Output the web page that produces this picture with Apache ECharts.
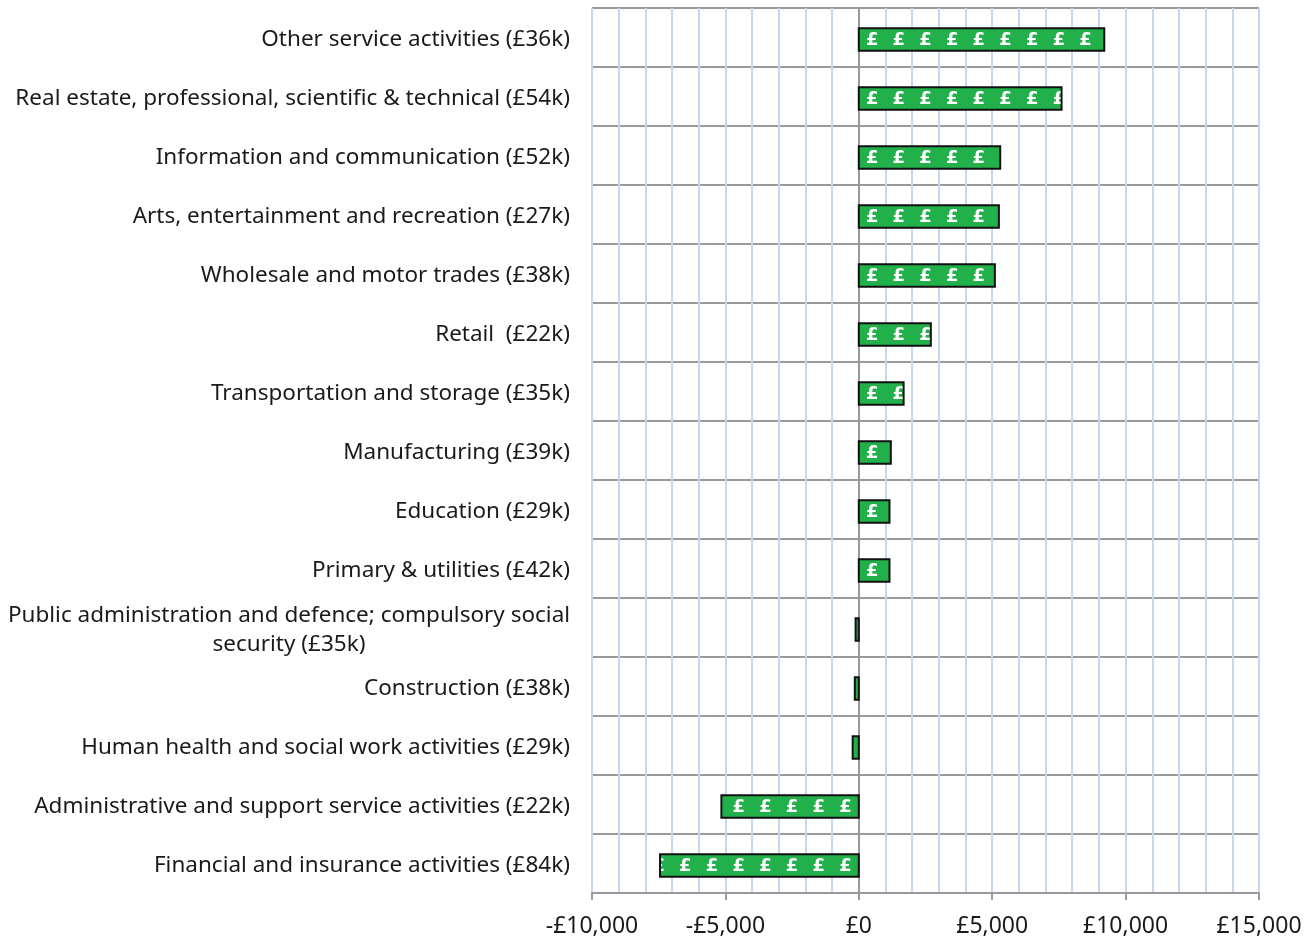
<!DOCTYPE html>
<html>
<head>
<meta charset="utf-8">
<script src="https://cdn.jsdelivr.net/npm/echarts@6/dist/echarts.min.js"></script>
<style>
  html, body { margin: 0; padding: 0; background: #fff; }
  #chart { width: 1306px; height: 938px; }
</style>
</head>
<body>
<div id="chart"></div>
<script>
// sectors, top to bottom
var categories = [
  "Other service activities (£36k)",
  "Real estate, professional, scientific & technical (£54k)",
  "Information and communication (£52k)",
  "Arts, entertainment and recreation (£27k)",
  "Wholesale and motor trades (£38k)",
  "Retail  (£22k)",
  "Transportation and storage (£35k)",
  "Manufacturing (£39k)",
  "Education (£29k)",
  "Primary & utilities (£42k)",
  "Public administration and defence; compulsory social\nsecurity (£35k)",
  "Construction (£38k)",
  "Human health and social work activities (£29k)",
  "Administrative and support service activities (£22k)",
  "Financial and insurance activities (£84k)"
];
var values = [9200, 7600, 5300, 5250, 5100, 2700, 1680, 1200, 1150, 1150, -120, -150, -230, -5150, -7450];
var xTicks = [-10000, -5000, 0, 5000, 10000, 15000];
var poundStep = 1000; // one £ per £1,000

var chart = echarts.init(document.getElementById("chart"));

function fmtMoney(v) {
  var s = "£" + Math.abs(v).toLocaleString("en-GB");
  return v < 0 ? "-" + s : s;
}

function renderBar(params, api) {
  var v = api.value(0);
  var cat = api.value(1);
  var p0 = api.coord([0, cat]);
  var p1 = api.coord([v, cat]);
  var h = api.size([0, 1])[1] * 0.38;
  var x = Math.min(p0[0], p1[0]);
  var w = Math.abs(p1[0] - p0[0]);
  var y = p0[1] - h / 2 + 2;
  var kids = [{
    type: "rect",
    shape: { x: x, y: y, width: w, height: h },
    style: { fill: "#22b04b", stroke: "#111", lineWidth: 2 }
  }];
  var n = Math.ceil(Math.abs(v) / poundStep);
  var sign = v < 0 ? -1 : 1;
  var pounds = [];
  for (var i = 0; i < n; i++) {
    var c = api.coord([sign * (i + 0.5) * poundStep, cat]);
    pounds.push({
      type: "text",
      style: {
        text: "£",
        x: c[0],
        y: y + h / 2 + 1,
        align: "center",
        verticalAlign: "middle",
        fill: "#fff",
        font: "bold 18px 'DejaVu Sans', sans-serif"
      }
    });
  }
  kids.push({
    type: "group",
    clipPath: { type: "rect", shape: { x: x + 1, y: y, width: Math.max(w - 2, 0), height: h } },
    children: pounds
  });
  return { type: "group", children: kids };
}

chart.setOption({
  animation: false,
  grid: { left: 592, right: 47, top: 8, bottom: 44 },
  xAxis: {
    type: "value",
    min: xTicks[0],
    max: xTicks[xTicks.length - 1],
    interval: 5000,
    axisLine: { show: true, lineStyle: { color: "#9a9a9a", width: 2 } },
    axisTick: { show: true, length: 7, lineStyle: { color: "#9a9a9a", width: 2 } },
    axisLabel: {
      color: "#1a1a1a",
      fontSize: 23,
      fontFamily: "Noto Sans",
      margin: 22,
      formatter: fmtMoney
    },
    splitLine: { show: true, lineStyle: { color: "#c6d7ef", width: 2 } },
    minorTick: { show: false, splitNumber: 5 },
    minorSplitLine: { show: true, lineStyle: { color: "#c6d7ef", width: 2 } }
  },
  yAxis: {
    type: "category",
    data: categories,
    inverse: true,
    axisLine: { show: false, onZero: false },
    axisTick: { show: false },
    splitLine: { show: true, lineStyle: { color: "#9a9a9a", width: 2 } },
    axisLabel: {
      color: "#1a1a1a",
      fontSize: 22.5,
      fontFamily: "Noto Sans",
      margin: 22,
      padding: [5, 0, 0, 0],
      formatter: function (v) {
        if (v.indexOf("\n") >= 0) return "{c|" + v.split("\n").join("}\n{c|") + "}";
        return v;
      },
      rich: {
        c: { width: 562, align: "center", fontSize: 22.5, fontFamily: "Noto Sans", color: "#1a1a1a", lineHeight: 29 }
      }
    }
  },
  series: [{
    type: "custom",
    renderItem: renderBar,
    encode: { x: 0, y: 1 },
    data: values.map(function (v, i) { return [v, i]; }),
    clip: true,
    markLine: {
      silent: true,
      symbol: "none",
      label: { show: false },
      lineStyle: { color: "#9a9a9a", width: 2, type: "solid" },
      data: [{ xAxis: 0 }],
      z: 1
    },
    z: 3
  }]
});
</script>
</body>
</html>
